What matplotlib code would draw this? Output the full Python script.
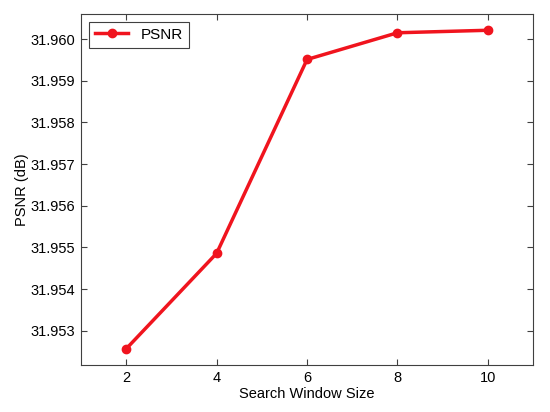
import matplotlib
matplotlib.use("Agg")
import matplotlib.pyplot as plt

# Data
window_sizes = [2, 4, 6, 8, 10]
psnr_values = [31.95257, 31.95486, 31.95951, 31.96015, 31.96021]

plt.rcParams['font.family'] = ['Liberation Sans', 'DejaVu Sans']
plt.rcParams['font.size'] = 10.5

fig = plt.figure(figsize=(5.5, 4.12), dpi=100)
ax = fig.add_axes([0.1473, 0.114, 0.822, 0.852])

ax.plot(window_sizes, psnr_values, color='#f0141e', linewidth=2.5,
        marker='o', markersize=6, label='PSNR')

ax.set_xlim(1, 11)
ax.set_ylim(31.95218, 31.9606)
ax.set_xticks(window_sizes)
ax.set_yticks([31.953, 31.954, 31.955, 31.956, 31.957, 31.958, 31.959, 31.960])
ax.set_yticklabels([f"{v:.3f}" for v in ax.get_yticks()])
ax.tick_params(direction='in', top=True, right=True, length=4, width=0.8,
               colors='#404040', labelcolor='black', labelsize=10.5, pad=4)
for spine in ax.spines.values():
    spine.set_color('#404040')
    spine.set_linewidth(0.8)

ax.set_xlabel('Search Window Size', fontsize=10.5, labelpad=2)
ax.set_ylabel('PSNR (dB)', fontsize=10.5, labelpad=1)

leg = ax.legend(loc='upper left', fancybox=False, edgecolor='#404040',
                framealpha=1, fontsize=11, handlelength=2.2,
                borderaxespad=0.5)
leg.get_frame().set_linewidth(0.8)

fig.savefig('out.png', dpi=100)
